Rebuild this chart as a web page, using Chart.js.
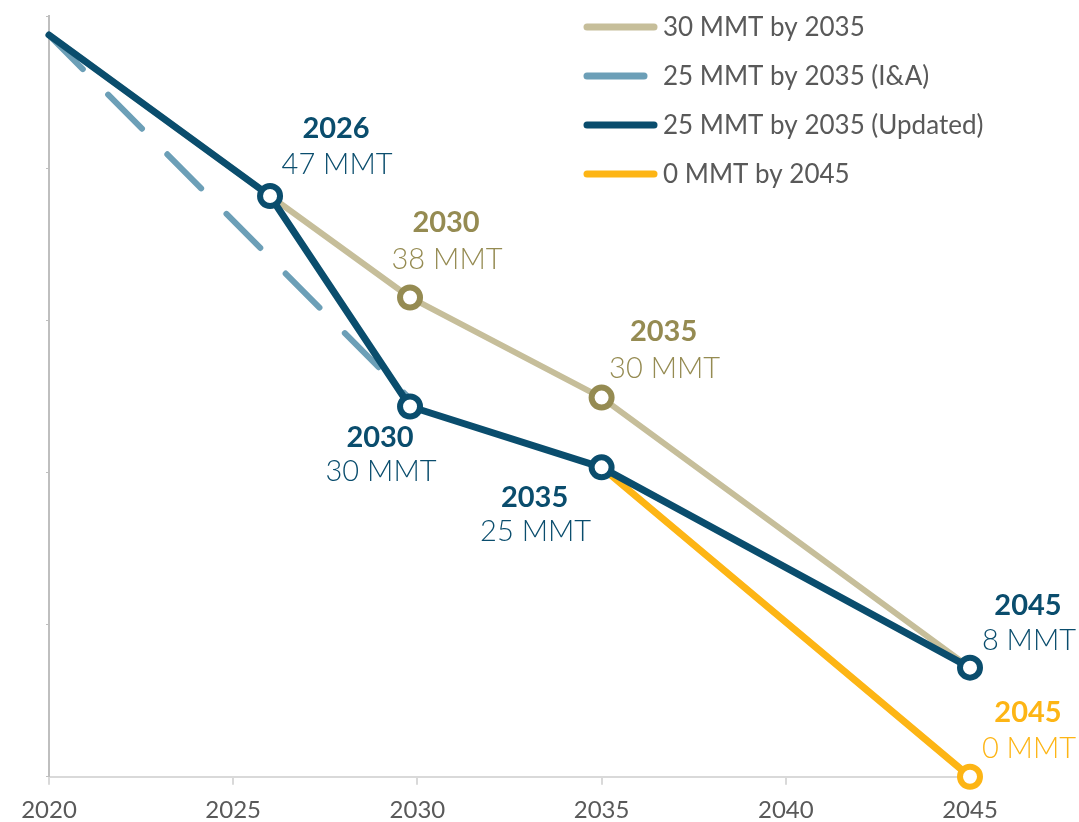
<!DOCTYPE html>
<html>
<head>
<meta charset="utf-8">
<script src="https://cdn.jsdelivr.net/npm/chart.js@4"></script>
<style>
  html, body { margin: 0; padding: 0; background: #ffffff; }
  #wrap { position: relative; width: 1079px; height: 822px; }
</style>
</head>
<body>
<div id="wrap"><canvas id="c" width="1079" height="822"></canvas></div>
<script>
// ---- data ----
const xTicks = [2020, 2025, 2030, 2035, 2040, 2045];
const seriesNames = ["30 MMT by 2035", "25 MMT by 2035 (I&A)", "25 MMT by 2035 (Updated)", "0 MMT by 2045"];

const goldYears = [2020, 2026, 2029.8, 2035, 2045];
const goldValues = [58.5, 45.8, 37.8, 29.9, 8.6];

const iaYears = [2020, 2029.8];
const iaValues = [58.5, 29.8];

const updYears = [2020, 2026, 2029.8, 2035, 2045];
const updValues = [58.5, 45.8, 29.2, 24.4, 8.6];

const zeroYears = [2035, 2045];
const zeroValues = [24.4, 0];

// data labels
const labelYears  = [2026, 2029.8, 2029.8, 2035, 2035, 2045, 2045];
const labelValues = [45.8, 37.8, 29.2, 29.9, 24.4, 8.6, 0];
const labelTitles = ["2026", "2030", "2030", "2035", "2035", "2045", "2045"];
const labelTexts  = ["47 MMT", "38 MMT", "30 MMT", "30 MMT", "25 MMT", "8 MMT", "0 MMT"];

// ---- styles ----
const BLUE = '#0A4D6D';
const GOLD_LINE = '#C6BE9A';
const GOLD_DARK = '#958B52';
const DASH = '#6C9FB7';
const YELLOW = '#FDB515';
const labelColors = [BLUE, GOLD_DARK, BLUE, GOLD_DARK, BLUE, BLUE, YELLOW];
const labelOffsets = [[66, -67, -31], [36, -75, -38], [-30, 31, 65], [62, -66, -29], [-67, 30, 64], [58, -62, -27], [58, -64, -28]];
const FONT = 'Lato, "Open Sans", sans-serif';

function pts(xs, ys) { return xs.map((x, i) => ({ x: x, y: ys[i] })); }

const labelPlugin = {
  id: 'labels',
  afterDatasetsDraw(chart) {
    const ctx = chart.ctx;
    const xs = chart.scales.x, ys = chart.scales.y;
    ctx.save();
    ctx.textAlign = 'center';
    ctx.textBaseline = 'middle';
    for (let i = 0; i < labelTitles.length; i++) {
      const px = xs.getPixelForValue(labelYears[i]);
      const py = ys.getPixelForValue(labelValues[i]);
      const o = labelOffsets[i];
      ctx.fillStyle = labelColors[i];
      ctx.font = 'bold 29px ' + FONT;
      ctx.fillText(labelTitles[i], px + o[0], py + o[1]);
      ctx.font = '300 29px ' + FONT;
      ctx.fillText(labelTexts[i], px + o[0] + 1, py + o[2]);
    }
    ctx.restore();
  }
};

const legendPlugin = {
  id: 'customLegend',
  afterDraw(chart) {
    const ctx = chart.ctx;
    const colors = [GOLD_LINE, DASH, BLUE, YELLOW];
    const lineEnds = [657, 647, 657, 657];
    const rowY = [27, 76, 125, 174];
    ctx.save();
    ctx.lineCap = 'round';
    ctx.lineWidth = 7;
    ctx.textAlign = 'left';
    ctx.textBaseline = 'middle';
    ctx.font = '26px ' + FONT;
    for (let i = 0; i < seriesNames.length; i++) {
      ctx.strokeStyle = colors[i];
      ctx.beginPath();
      ctx.moveTo(587, rowY[i]);
      ctx.lineTo(lineEnds[i] - 3, rowY[i]);
      ctx.stroke();
      ctx.fillStyle = '#595959';
      ctx.fillText(seriesNames[i], 663, rowY[i] + 1);
    }
    ctx.restore();
  }
};

new Chart(document.getElementById('c'), {
  type: 'line',
  data: {
    datasets: [
      {
        label: seriesNames[2], data: pts(updYears, updValues), order: 0,
        borderColor: BLUE, borderWidth: 7, borderCapStyle: 'round', borderJoinStyle: 'round',
        pointRadius: [0, 10, 10, 10, 10], pointBorderWidth: 6,
        pointBorderColor: BLUE, pointBackgroundColor: '#ffffff', tension: 0, clip: false
      },
      {
        label: seriesNames[3], data: pts(zeroYears, zeroValues), order: 1,
        borderColor: YELLOW, borderWidth: 7, borderCapStyle: 'round', borderJoinStyle: 'round',
        pointRadius: [0, 10], pointBorderWidth: 6,
        pointBorderColor: YELLOW, pointBackgroundColor: '#ffffff', tension: 0, clip: false
      },
      {
        label: seriesNames[0], data: pts(goldYears, goldValues), order: 2,
        borderColor: GOLD_LINE, borderWidth: 6, borderCapStyle: 'round', borderJoinStyle: 'round',
        pointRadius: [0, 0, 10, 10, 0], pointBorderWidth: 6,
        pointBorderColor: GOLD_DARK, pointBackgroundColor: '#ffffff', tension: 0, clip: false
      },
      {
        label: seriesNames[1], data: pts(iaYears, iaValues), order: 3,
        borderColor: DASH, borderWidth: 6, borderCapStyle: 'round', borderDash: [48, 36],
        pointRadius: 0, tension: 0, clip: false
      }
    ]
  },
  options: {
    responsive: false,
    animation: false,
    events: [],
    layout: { padding: { top: 15, right: 109, left: 0, bottom: 0 } },
    plugins: { legend: { display: false }, tooltip: { enabled: false } },
    scales: {
      x: {
        type: 'linear', min: 2020, max: 2045,
        afterFit(s) { s.height = 45.3; },
        afterBuildTicks(s) { s.ticks = xTicks.map(v => ({ value: v })); },
        ticks: {
          callback: v => String(v), color: '#595959', padding: 11,
          font: { family: FONT, size: 24 }, maxRotation: 0
        },
        grid: { drawOnChartArea: false, drawTicks: true, tickLength: 8, color: '#D9D9D9', lineWidth: 2 },
        border: { display: true, color: '#D9D9D9', width: 2 }
      },
      y: {
        min: 0, max: 60,
        afterFit(s) { s.width = 49; },
        ticks: { stepSize: 12, display: false },
        grid: { drawOnChartArea: false, drawTicks: true, tickLength: 3, color: '#BFBFBF', lineWidth: 1 },
        border: { display: true, color: '#BFBFBF', width: 2 }
      }
    }
  },
  plugins: [labelPlugin, legendPlugin]
});
</script>
</body>
</html>
